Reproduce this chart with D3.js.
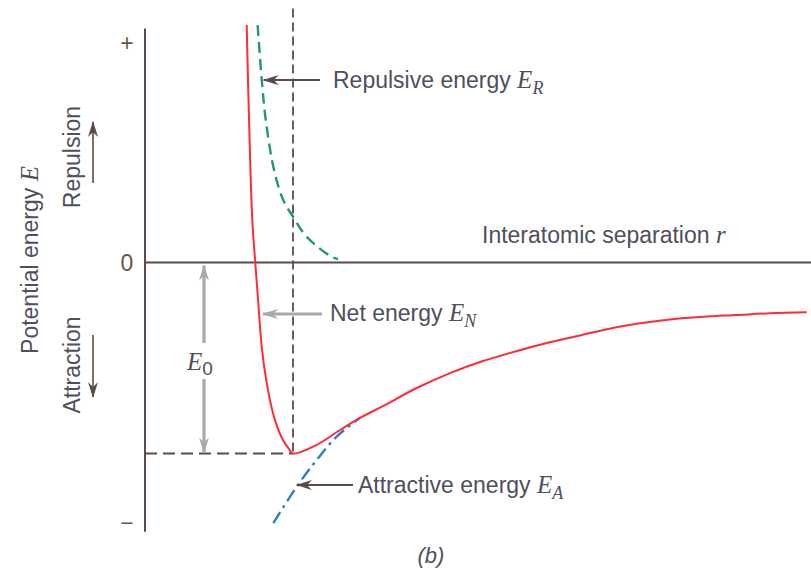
<!DOCTYPE html>
<html>
<head>
<meta charset="utf-8">
<script src="https://cdn.jsdelivr.net/npm/d3@7"></script>
<style>
    body { margin: 0; background: #fff; }
    text { font-family: "Liberation Sans", Arial, sans-serif; fill: #4f4f5e; }
    .math { font-family: "Liberation Serif", "Times New Roman", serif; font-style: italic; }
</style>
</head>
<body>
<svg id="chart"></svg>
<script>
// values (r in units of r0, E in units of E0)
const rNet = [0.687, 0.703, 0.725, 0.745, 0.764, 0.791, 0.831, 0.878, 0.932, 0.973, 1.0, 1.160, 1.318, 1.453, 1.610, 1.836, 2.061, 2.284, 2.514, 2.736, 2.939, 3.097, 3.322, 3.547, 3.772, 3.998, 4.223, 4.471];
const eNet = [1.244, 0.746, 0.223, 0, -0.196, -0.458, -0.668, -0.825, -0.929, -0.976, -1.0, -0.955, -0.877, -0.814, -0.751, -0.657, -0.579, -0.516, -0.463, -0.418, -0.382, -0.353, -0.321, -0.298, -0.284, -0.275, -0.266, -0.261];
const rRep = [0.761, 0.789, 0.816, 0.872, 0.934, 1.002, 1.093, 1.262, 1.304];
const eRep = [1.243, 0.955, 0.746, 0.484, 0.327, 0.238, 0.134, 0.029, 0.018];
const rAtt = [0.867, 1.025, 1.160, 1.295, 1.452];
const eAtt = [-1.364, -1.174, -1.034, -0.912, -0.814];
const r0 = 1.0;
const E0 = -1.0;
const yTickValues = [1.15, 0, -1.36];
const yTickLabels = ['+', '0', '\u2212'];

const w = 811, h = 571;
const axisColor = '#5a4b45';

const svg = d3.select('#chart')
    .attr('width', w)
    .attr('height', h);

const xScale = d3.scaleLinear().domain([0, 4.5]).range([145, 811]);
const yScale = d3.scaleLinear().domain([-1, 0]).range([453.5, 262.5]);

// arrowheads
const defs = svg.append('defs');
[['dark', axisColor], ['gray', '#a9a9a9']].forEach(([id, c]) => {
    defs.append('marker')
        .attr('id', 'head-' + id)
        .attr('viewBox', '0 0 16 10')
        .attr('refX', 15)
        .attr('refY', 5)
        .attr('markerWidth', 16)
        .attr('markerHeight', 10)
        .attr('markerUnits', 'userSpaceOnUse')
        .attr('orient', 'auto-start-reverse')
        .append('path')
        .attr('d', 'M0,0 L16,5 L0,10 L5,5 Z')
        .attr('fill', c);
});

// guide lines at r0 and E0
svg.append('line')
    .attr('x1', xScale(r0)).attr('x2', xScale(r0))
    .attr('y1', yScale(1.33)).attr('y2', yScale(E0))
    .attr('stroke', axisColor).attr('stroke-width', 1.8)
    .attr('stroke-dasharray', '9,5');
svg.append('line')
    .attr('x1', xScale(0)).attr('x2', xScale(r0))
    .attr('y1', yScale(E0)).attr('y2', yScale(E0))
    .attr('stroke', axisColor).attr('stroke-width', 1.8)
    .attr('stroke-dasharray', '12,6');

// axes
svg.append('line')
    .attr('x1', xScale(0)).attr('x2', xScale(0))
    .attr('y1', yScale(1.225)).attr('y2', yScale(-1.41))
    .attr('stroke', axisColor).attr('stroke-width', 2);
svg.append('line')
    .attr('x1', xScale(0)).attr('x2', xScale(4.5))
    .attr('y1', yScale(0)).attr('y2', yScale(0))
    .attr('stroke', axisColor).attr('stroke-width', 2);

svg.selectAll('.ytick')
    .data(yTickValues)
    .enter()
    .append('text')
    .attr('class', 'ytick')
    .attr('x', 127)
    .attr('y', d => yScale(d))
    .attr('dy', '0.36em')
    .attr('text-anchor', 'middle')
    .attr('font-size', 23)
    .style('fill', '#6b5646')
    .text((d, i) => yTickLabels[i]);

// curves
const line = d3.line()
    .x(d => xScale(d[0]))
    .y(d => yScale(d[1]))
    .curve(d3.curveCatmullRom.alpha(0.5));

svg.append('path')
    .attr('d', line(d3.zip(rRep, eRep)))
    .attr('fill', 'none')
    .attr('stroke', '#1f9a6a')
    .attr('stroke-width', 2.4)
    .attr('stroke-dasharray', '11,6');

svg.append('path')
    .attr('d', line(d3.zip(rAtt, eAtt)))
    .attr('fill', 'none')
    .attr('stroke', '#2d7fc4')
    .attr('stroke-width', 2.4)
    .attr('stroke-dasharray', '13,5,3,5');

svg.append('path')
    .attr('d', line(d3.zip(rNet, eNet)))
    .attr('fill', 'none')
    .attr('stroke', '#ff2b36')
    .attr('stroke-width', 2);

// pointer arrows
function arrow(x1, y1, x2, y2, kind, width, both) {
    const a = svg.append('line')
        .attr('x1', x1).attr('y1', y1)
        .attr('x2', x2).attr('y2', y2)
        .attr('stroke', kind === 'gray' ? '#a9a9a9' : axisColor)
        .attr('stroke-width', width)
        .attr('marker-end', `url(#head-${kind})`);
    if (both) a.attr('marker-start', `url(#head-${kind})`);
}
arrow(320, yScale(0.955), xScale(0.789) + 2, yScale(0.955), 'dark', 2);
arrow(322, 314, 263, 314, 'gray', 3.2);
arrow(353, 485, 297, 485, 'dark', 2);
// E0 span
arrow(204, 343, 204, yScale(0) + 3, 'gray', 3.2);
arrow(204, 379, 204, yScale(E0) - 1, 'gray', 3.2);
// repulsion / attraction direction
arrow(93, 183, 93, 122, 'dark', 1.6);
arrow(93, 335, 93, 397, 'dark', 1.6);

// labels
function label(x, y, txt, sym, sub, anchor) {
    const t = svg.append('text')
        .attr('x', x).attr('y', y)
        .attr('dy', '0.36em')
        .attr('font-size', 23)
        .attr('text-anchor', anchor || 'start');
    t.append('tspan').text(txt);
    if (sym) {
        t.append('tspan').attr('class', 'math').attr('font-size', 25).text(sym);
        if (sub) t.append('tspan').attr('class', 'math').attr('font-size', 18).attr('dy', 6).text(sub);
    }
    return t;
}
label(333, 80, 'Repulsive energy ', 'E', 'R');
label(330, 313, 'Net energy ', 'E', 'N');
label(358, 485, 'Attractive energy ', 'E', 'A');
label(482, 235, 'Interatomic separation ', 'r');

const e0 = svg.append('text')
    .attr('x', 187).attr('y', 361)
    .attr('dy', '0.36em')
    .attr('font-size', 25);
e0.append('tspan').attr('class', 'math').text('E');
e0.append('tspan').attr('font-size', 19).attr('dy', 5).text('0');

svg.append('text')
    .attr('x', 431).attr('y', 555)
    .attr('dy', '0.36em')
    .attr('text-anchor', 'middle')
    .attr('font-size', 22)
    .style('font-style', 'italic')
    .text('(b)');

[['Repulsion', 72, 157], ['Attraction', 72, 365]].forEach(([s, x, y]) => {
    svg.append('text')
        .attr('transform', `translate(${x},${y}) rotate(-90)`)
        .attr('dy', '0.36em')
        .attr('text-anchor', 'middle')
        .attr('font-size', 23)
        .text(s);
});
const ytitle = svg.append('text')
    .attr('transform', 'translate(30,260) rotate(-90)')
    .attr('dy', '0.36em')
    .attr('text-anchor', 'middle')
    .attr('font-size', 23);
ytitle.append('tspan').text('Potential energy ');
ytitle.append('tspan').attr('class', 'math').attr('font-size', 25).text('E');
</script>
</body>
</html>
